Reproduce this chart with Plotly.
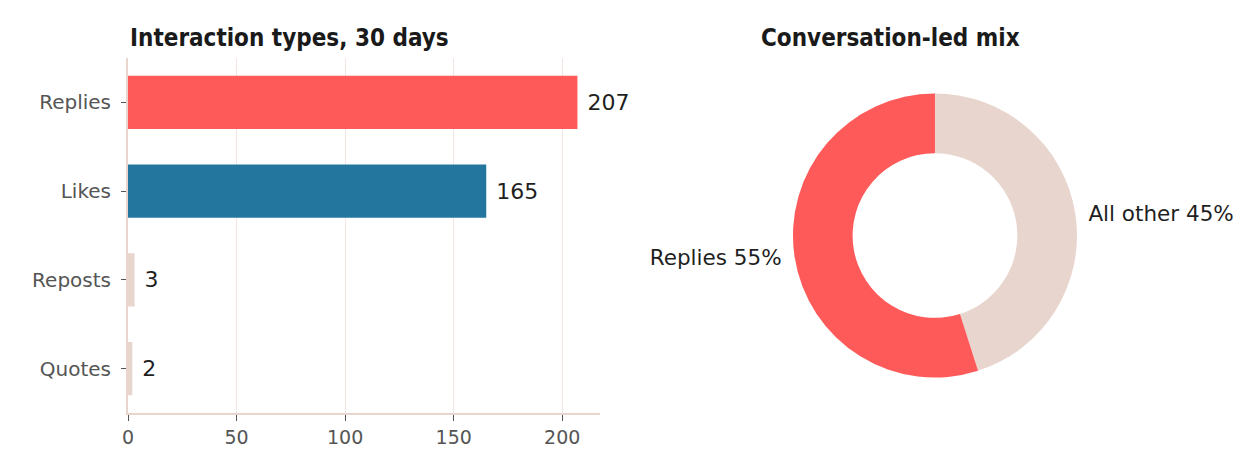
import plotly.graph_objects as go

# data
categories = ["Replies", "Likes", "Reposts", "Quotes"]
counts = [207, 165, 3, 2]
mix_labels = ["All other", "Replies"]
mix_values = [170, 207]

RED = "#FF5A5A"
BLUE = "#23779F"
BEIGE = "#E8D5CE"
GRID = "#F3E6E2"
TITLE_FONT = "DejaVu Sans Condensed"
BODY_FONT = "DejaVu Sans"

fig = go.Figure()

fig.add_trace(go.Bar(
    y=categories,
    x=counts,
    orientation="h",
    marker=dict(color=[RED, BLUE, BEIGE, BEIGE], line=dict(width=0)),
    text=[" " + str(c) for c in counts],
    textposition="outside",
    textfont=dict(size=22, color="#1f1f1f", family=BODY_FONT),
    cliponaxis=False,
    width=0.6,
    showlegend=False,
    xaxis="x", yaxis="y",
))

fig.add_trace(go.Pie(
    labels=mix_labels,
    values=mix_values,
    hole=0.58,
    sort=False,
    direction="clockwise",
    marker=dict(colors=[BEIGE, RED], line=dict(width=0)),
    texttemplate=[" %{label} %{percent:.0%}", "%{label} %{percent:.0%} "],
    textposition="outside",
    textfont=dict(size=21.5, color="#1f1f1f", family=BODY_FONT),
    automargin=False,
    domain=dict(x=[0.5218, 0.9218], y=[0.1, 0.9]),
    showlegend=False,
))

fig.update_layout(
    width=1258, height=475,
    margin=dict(l=120, r=20, t=50, b=70, autoexpand=False),
    paper_bgcolor="white",
    plot_bgcolor="white",
    font=dict(family=BODY_FONT, color="#555555"),
    xaxis=dict(
        domain=[0, 0.4222],
        range=[0, 217.4],
        tickvals=[0, 50, 100, 150, 200],
        showgrid=True, gridcolor=GRID, gridwidth=1,
        showline=True, linecolor=BEIGE, linewidth=2,
        ticks="outside", ticklen=6, tickcolor="#555555",
        tickfont=dict(size=19, color="#555555"),
        zeroline=False,
        automargin=False,
    ),
    yaxis=dict(
        autorange="reversed",
        showline=True, linecolor=BEIGE, linewidth=2,
        ticks="outside", ticklen=5, tickcolor="#555555",
        tickfont=dict(size=20, color="#555555"),
        ticklabelstandoff=6,
        showgrid=False,
        automargin=False,
    ),
    annotations=[
        dict(text="<b>Interaction types, 30 days</b>", x=0, xref="paper",
             y=1, yref="paper", xanchor="left", yanchor="bottom", yshift=4,
             showarrow=False, font=dict(family=TITLE_FONT, size=24, color="#1a1a1a")),
        dict(text="<b>Conversation-led mix</b>", x=0.6816, xref="paper",
             y=1, yref="paper", xanchor="center", yanchor="bottom", yshift=4,
             showarrow=False, font=dict(family=TITLE_FONT, size=24, color="#1a1a1a")),
    ],
)

fig.write_html("out.html")
